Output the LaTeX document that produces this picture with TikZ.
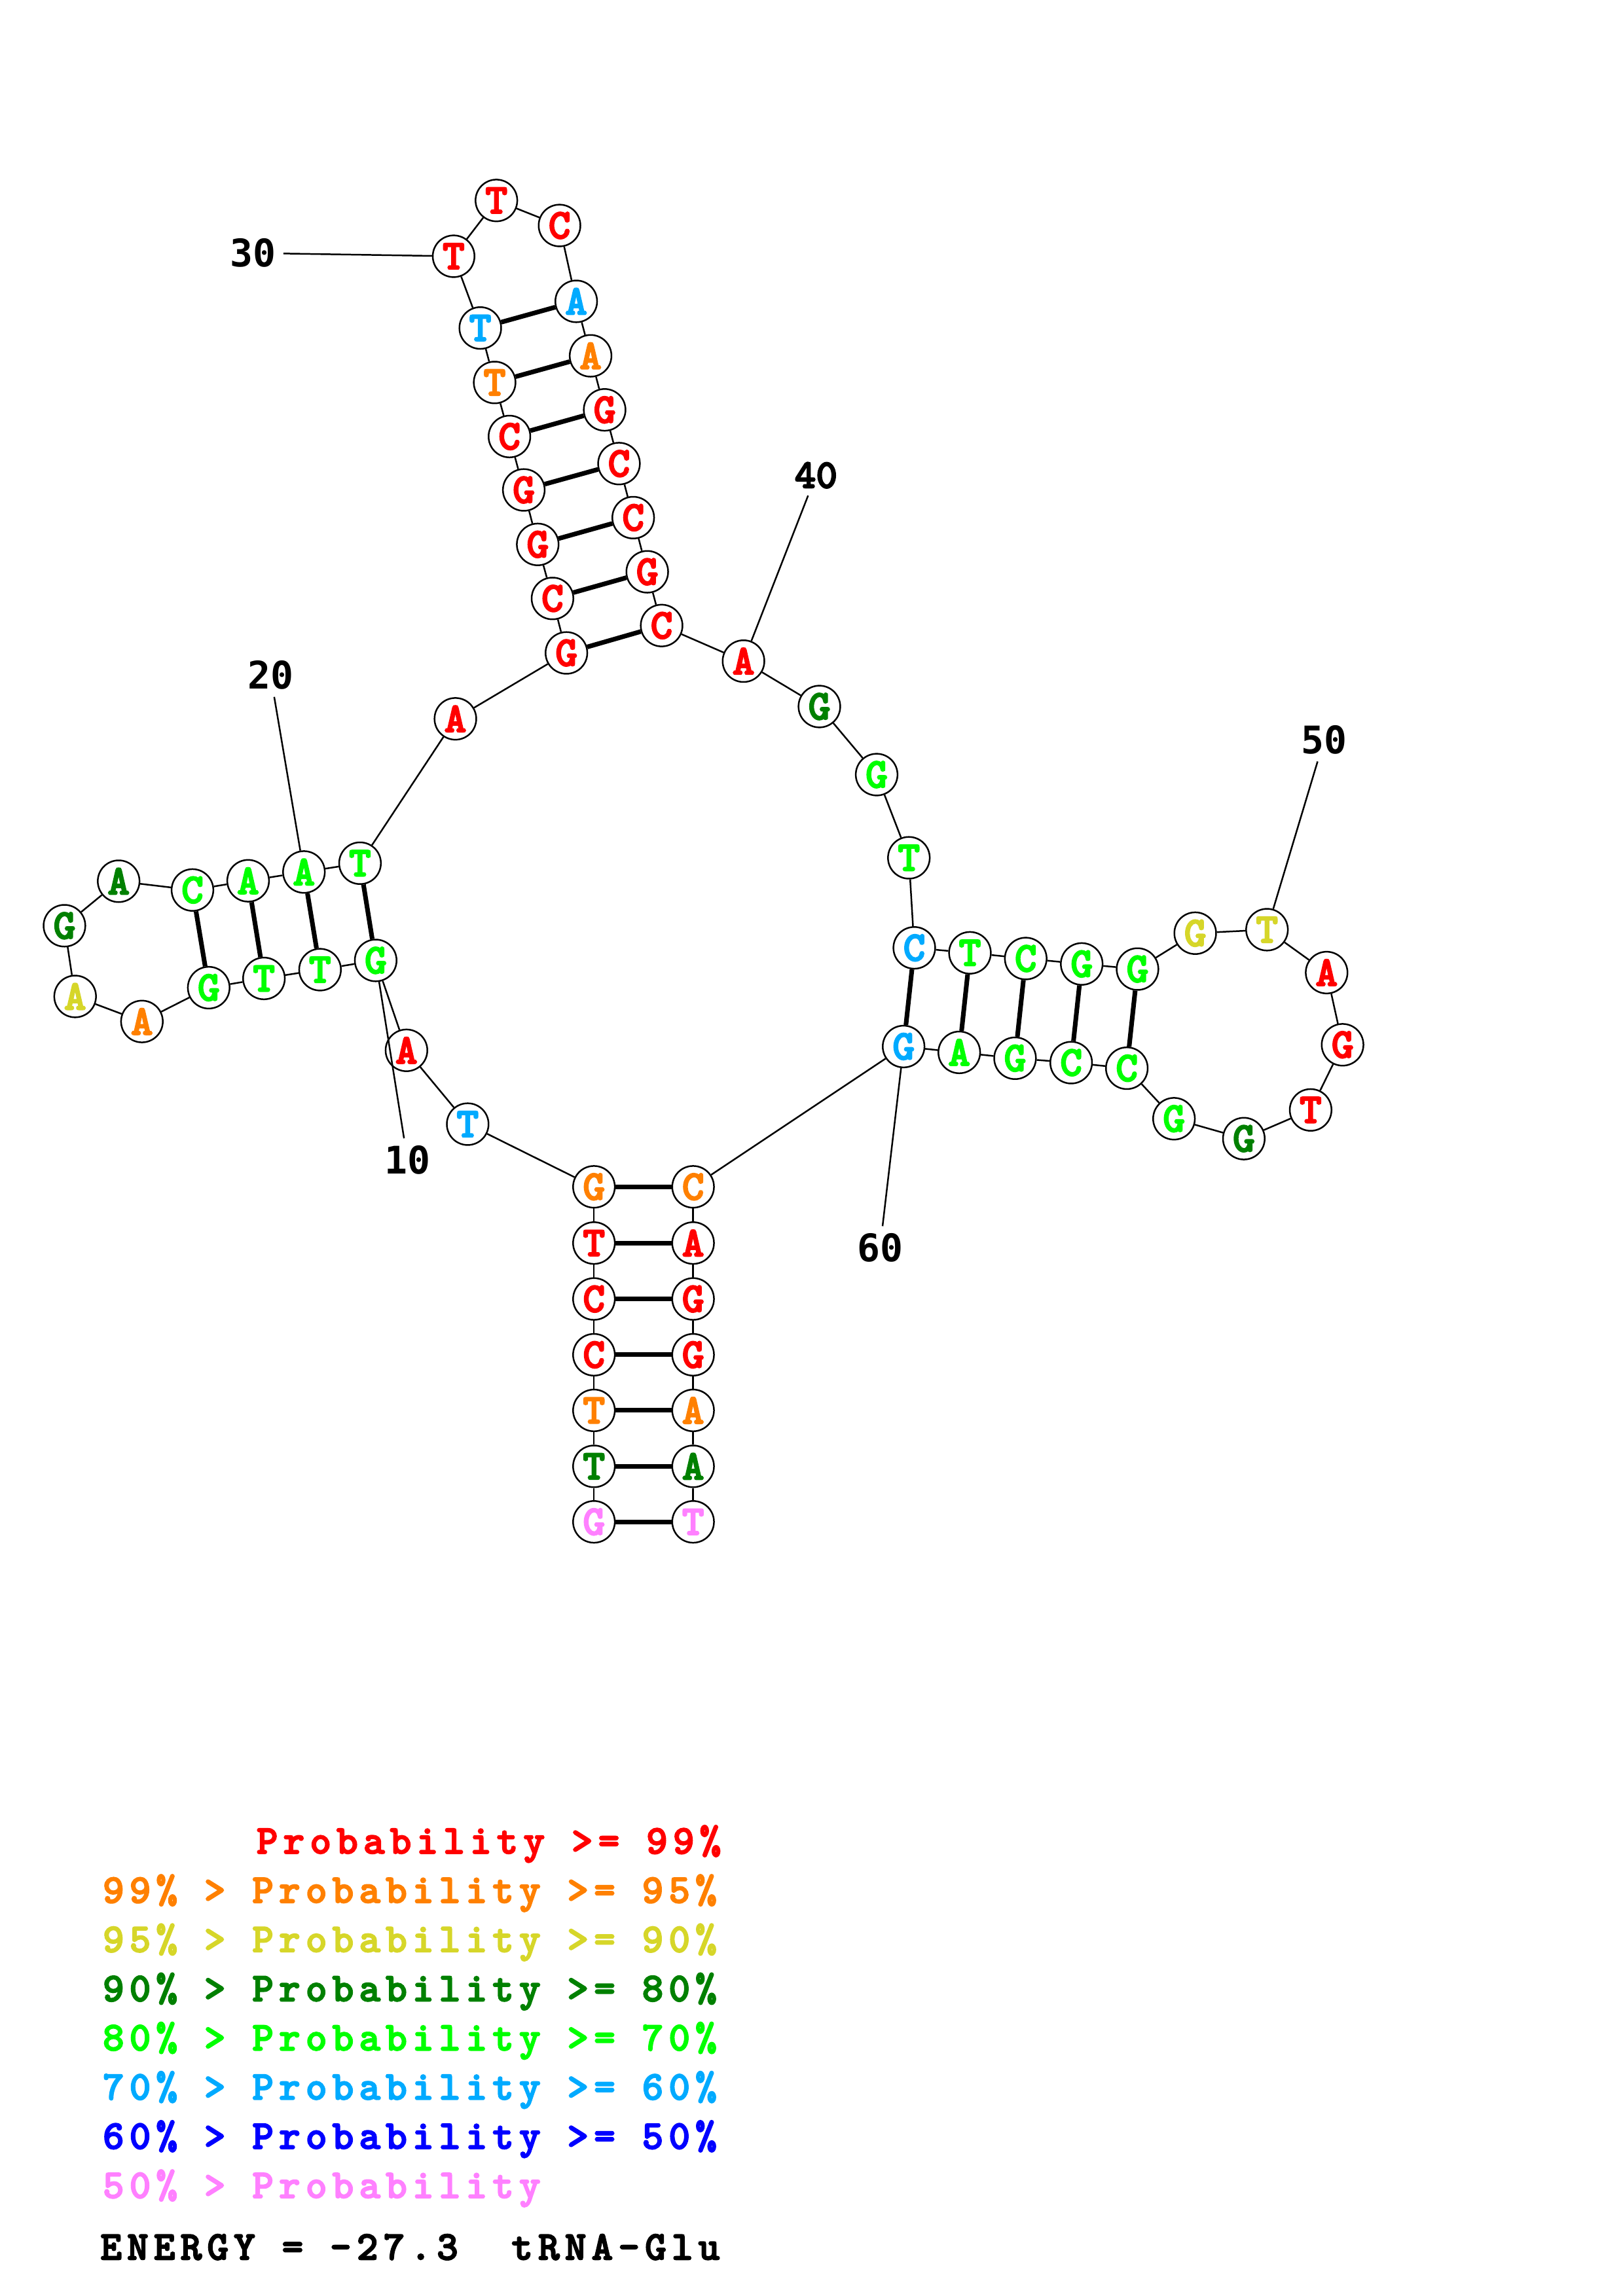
\documentclass[tikz,border=0pt]{standalone}
\usepackage{fontspec}
\newfontfamily\courfont{lmmonolt10-bold}[Extension=.otf, FakeBold=3.2]
\newfontfamily\legfont{lmmonolt10-bold}[Extension=.otf, FakeBold=3, LetterSpace=13]
\newfontfamily\numfont{DejaVu Sans Mono}
\usepackage{xcolor}
\usepackage{tikz}

\definecolor{pr99}{RGB}{255,0,0}
\definecolor{pr95}{RGB}{255,128,0}
\definecolor{pr90}{RGB}{214,214,41}
\definecolor{pr80}{RGB}{0,128,0}
\definecolor{pr70}{RGB}{0,255,0}
\definecolor{pr60}{RGB}{0,170,255}
\definecolor{pr50}{RGB}{0,0,255}
\definecolor{prlow}{RGB}{255,128,255}

\tikzset{
  nt/.style={circle, draw, fill=white, line width=0.6pt, minimum size=0.54cm, inner sep=0pt,
    font=\courfont\fontsize{15.5}{15.5}\selectfont},
  bond/.style={line width=0.6pt},
  pairbond/.style={line width=1.7pt},
  numlab/.style={inner sep=2.5pt, font=\numfont\bfseries\fontsize{14}{14}\selectfont},
  legend/.style={anchor=base west, inner sep=0pt, font=\legfont\fontsize{15}{15}\selectfont}
}

\begin{document}
\begin{tikzpicture}[x=0.0189531cm, y=-0.0189531cm]
        \useasboundingbox (0,0) rectangle (1108,1568);

        % bases
        \foreach \i/\x/\y/\b/\c in {
            1/405.5/1039.3/G/prlow, 2/405.5/1001.4/T/pr80, 3/405.5/963.2/T/pr95,
            4/405.5/925.2/C/pr99, 5/405.5/887.1/C/pr99, 6/405.5/848.9/T/pr99,
            7/405.5/810.5/G/pr95, 8/319.3/767.7/T/pr60, 9/277.5/717.3/A/pr99,
            10/256.5/655.9/G/pr70, 11/218.5/662.2/T/pr70, 12/180.2/668.2/T/pr70,
            13/142.5/674.5/G/pr70, 14/96.9/697.6/A/pr95, 15/51.3/680.5/A/pr90,
            16/44.0/632.2/G/pr80, 17/81.0/601.8/A/pr80, 18/131.4/607.8/C/pr70,
            19/169.4/601.5/A/pr70, 20/207.5/595.5/A/pr70, 21/245.8/589.5/T/pr70,
            22/310.9/490.9/A/pr99, 23/386.7/445.9/G/pr99, 24/377.2/408.7/C/pr99,
            25/367.1/371.8/G/pr99, 26/357.6/334.6/G/pr99, 27/347.8/298.1/C/pr99,
            28/337.7/261.2/T/pr95, 29/327.9/224.0/T/pr60, 30/309.7/175.0/T/pr99,
            31/338.9/136.9/T/pr99, 32/382.0/154.0/C/pr99, 33/393.4/205.8/A/pr60,
            34/403.2/243.0/A/pr95, 35/412.8/279.9/G/pr99, 36/422.6/316.6/C/pr99,
            37/432.3/353.5/C/pr99, 38/441.9/390.5/G/pr99, 39/451.7/427.2/C/pr99,
            40/507.6/451.5/A/pr99, 41/559.4/482.5/G/pr80, 42/598.5/529.0/G/pr70,
            43/620.5/585.8/T/pr70, 44/624.2/647.3/C/pr60, 45/662.2/650.7/T/pr70,
            46/700.3/654.6/C/pr70, 47/738.5/658.3/G/pr70, 48/776.6/661.8/G/pr70,
            49/816.0/637.3/G/pr90, 50/865.0/634.9/T/pr90, 51/905.7/664.2/A/pr99,
            52/916.6/713.5/G/pr99, 53/894.8/758.0/T/pr99, 54/849.2/777.6/G/pr80,
            55/801.5/764.0/G/pr70, 56/769.3/729.5/C/pr70, 57/731.3/725.7/C/pr70,
            58/693.0/722.7/G/pr70, 59/654.9/718.7/A/pr70, 60/616.9/714.7/G/pr60,
            61/473.2/810.5/C/pr95, 62/473.2/848.9/A/pr99, 63/473.2/887.1/G/pr99,
            64/473.2/925.2/G/pr99, 65/473.2/963.2/A/pr95, 66/473.2/1001.4/A/pr80,
            67/473.2/1039.3/T/prlow}
        \node[nt, text=\c] (n\i) at (\x,\y) {\b};

        % backbone
        \foreach \i [count=\j from 2] in {1,...,66}
        \draw[bond] (n\i) -- (n\j);

        % base pairs
        \foreach \a/\b in {1/67,2/66,3/65,4/64,5/63,6/62,7/61,
            10/21,11/20,12/19,13/18,
            23/39,24/38,25/37,26/36,27/35,28/34,29/33,
            44/60,45/59,46/58,47/57,48/56}
        \draw[pairbond] (n\a) -- (n\b);

        % position numbers
        \foreach \n/\x/\y in {10/278.2/792.2, 20/184.7/461.1, 30/172.8/172.8,
            50/904.0/505.2, 60/600.8/852.2}
        {
        \node[numlab] (lab\n) at (\x,\y) {\n};
        \draw[bond] (n\n) -- (lab\n);
        }
        \node[numlab, font=\courfont\fontsize{15}{15}\selectfont] (lab40) at (557.1,324.6) {40};
        \draw[bond] (n40) -- (lab40);

        % legend
        \node[legend, text=pr99] (leg0) at (174.8,1265.8) {Probability >= 99\%};
        \foreach \k/\hi/\lo/\c in {1/99/95/pr95, 2/95/90/pr90, 3/90/80/pr80,
            4/80/70/pr70, 5/70/60/pr60, 6/60/50/pr50}
        \node[legend, text=\c] (leg\k) at (69.8,1265.8+\k*33.6) {\hi\% > Probability >= \lo\%};
        \node[legend, text=prlow] (leg7) at (69.8,1501.0) {50\% > Probability};
        \node[legend] (energy) at (68.2,1543.1) {ENERGY = -27.3\ \ tRNA-Glu};
\end{tikzpicture}
\end{document}
